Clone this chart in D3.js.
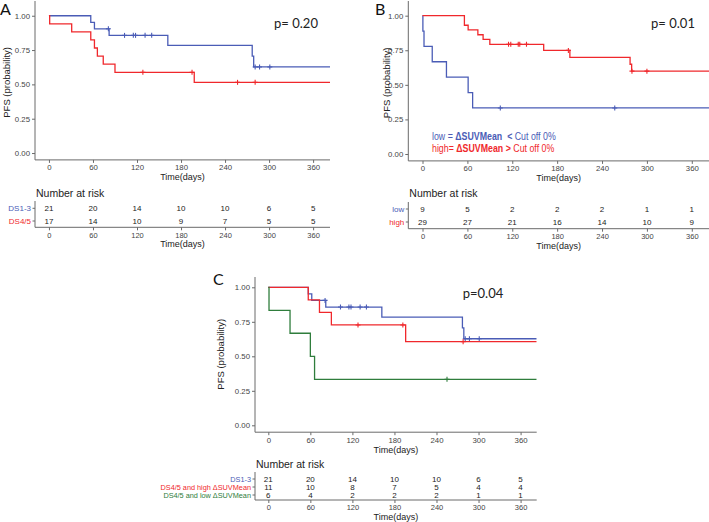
<!DOCTYPE html>
<html><head><meta charset="utf-8">
<script src="https://cdn.jsdelivr.net/npm/d3@7"></script>
<style>
html,body{margin:0;padding:0;background:#fff;}
svg text{font-family:"Liberation Sans",Arial,sans-serif;}
</style></head>
<body>
<svg id="chart" width="709" height="522"></svg>
<script>
// ---------- DATA ----------
const xTicks = [0, 60, 120, 180, 240, 300, 360];
const yTicks = [0, 0.25, 0.5, 0.75, 1];
const yTickLabels = ["0.00", "0.25", "0.50", "0.75", "1.00"];

// Panel A
const aBlueTime = [0, 57, 62, 82, 162, 277, 279];
const aBlueSurv = [1, 0.952, 0.905, 0.857, 0.784, 0.706, 0.627];
const aBlueCens = [81, 103, 115, 118, 131, 140, 281, 287, 301];
const aRedTime = [0, 1, 31, 57, 62, 66, 74, 90, 198];
const aRedSurv = [1, 0.941, 0.882, 0.824, 0.765, 0.706, 0.647, 0.588, 0.515];
const aRedCens = [128, 195, 257, 281];
const aRiskLabels = ["DS1-3", "DS4/5"];
const aRiskBlue = [21, 20, 14, 10, 10, 6, 5];
const aRiskRed = [17, 14, 10, 9, 7, 5, 5];
const aP = "p= 0.20";

// Panel B
const bLowTime = [0, 0.5, 2, 13, 32, 61, 67];
const bLowSurv = [1, 0.889, 0.778, 0.667, 0.556, 0.444, 0.333];
const bLowCens = [104, 257];
const bHighTime = [0, 56, 61, 74, 81, 90, 162, 197, 277.5, 279.6];
const bHighSurv = [1, 0.931, 0.897, 0.862, 0.828, 0.793, 0.749, 0.699, 0.649, 0.599];
const bHighCens = [115, 118, 128, 130, 139, 195, 280, 300];
const bRiskLabels = ["low", "high"];
const bRiskLow = [9, 5, 2, 2, 2, 1, 1];
const bRiskHigh = [29, 27, 21, 16, 14, 10, 9];
const bP = "p= 0.01";

// Panel C
const cRedTime = [0, 57, 73, 90, 196];
const cRedSurv = [1, 0.909, 0.818, 0.727, 0.606];
const cRedCens = [128, 192, 278];
const cGreenTime = [0, 1, 31, 60, 66];
const cGreenSurv = [1, 0.833, 0.667, 0.5, 0.333];
const cGreenCens = [255];
const cRiskLabels = ["DS1-3", "DS4/5 and high \u0394SUVMean", "DS4/5 and low \u0394SUVMean"];
const cRiskBlue = [21, 20, 14, 10, 10, 6, 5];
const cRiskRed = [11, 10, 8, 7, 5, 4, 4];
const cRiskGreen = [6, 4, 2, 2, 2, 1, 1];
const cP = "p=0.04";

// ---------- STYLE ----------
const BLUE = "#4a5cb6", RED = "#f0282c", GREEN = "#2f7d3c";
const AX = "#6a6a6a", TICKTXT = "#444", TXT = "#222";

const svg = d3.select("#chart");

function survAt(times, surv, t) {
  let s = surv[0];
  for (let i = 0; i < times.length; i++) if (times[i] <= t) s = surv[i];
  return s;
}

function drawPanel(p) {
  const g = svg.append("g");
  const x = d3.scaleLinear().domain([-19, 383]).range([p.left, p.right]);
  const y = d3.scaleLinear().domain([-0.05, 1.05]).range([p.bottom, p.bottom - 1.1 * p.unit]);
  const clipId = "clip" + p.id;
  svg.append("clipPath").attr("id", clipId).append("rect")
    .attr("x", p.left).attr("y", p.axisTop).attr("width", p.right - p.left).attr("height", p.bottom - p.axisTop);

  // axes
  const yAxis = d3.axisLeft(y).tickValues(yTicks).tickFormat((d, i) => yTickLabels[i]).tickSize(3).tickPadding(2);
  const ya = g.append("g").attr("transform", `translate(${p.left},0)`).call(yAxis);
  const xAxis = d3.axisBottom(x).tickValues(xTicks).tickSize(3).tickPadding(2);
  const xa = g.append("g").attr("transform", `translate(0,${p.bottom})`).call(xAxis);
  [ya, xa].forEach(a => {
    a.select(".domain").remove();
    a.selectAll(".tick line").attr("stroke", AX);
    a.selectAll(".tick text").attr("fill", TICKTXT).style("font-size", "7.8px");
  });
  g.append("line").attr("x1", p.left).attr("x2", p.left).attr("y1", p.axisTop).attr("y2", p.bottom).attr("stroke", AX);
  g.append("line").attr("x1", p.left).attr("x2", p.right).attr("y1", p.bottom).attr("y2", p.bottom).attr("stroke", AX);

  g.append("text").attr("x", (p.left + p.right) / 2).attr("y", p.bottom + 17.5).attr("text-anchor", "middle")
    .attr("dominant-baseline", "central").style("font-size", "9px").attr("fill", TXT).text("Time(days)");
  g.append("text").attr("transform", `translate(${p.ylabX},${y(0.5) - 2}) rotate(-90)`).attr("text-anchor", "middle")
    .attr("dominant-baseline", "central").style("font-size", "9.5px").attr("fill", TXT).text("PFS (probability)");

  // curves
  const line = d3.line().x(d => x(d[0])).y(d => y(d[1])).curve(d3.curveStepAfter);
  const cg = g.append("g").attr("clip-path", `url(#${clipId})`);
  p.curves.forEach(c => {
    const pts = c.time.map((t, i) => [t, c.surv[i]]);
    pts.push([383, c.surv[c.surv.length - 1]]);
    cg.append("path").datum(pts).attr("d", line).attr("fill", "none").attr("stroke", c.color).attr("stroke-width", 1.3);
    c.cens.forEach(t => {
      const cx = x(t), cy = y(survAt(c.time, c.surv, t));
      cg.append("line").attr("x1", cx).attr("x2", cx).attr("y1", cy - 2.5).attr("y2", cy + 2.5).attr("stroke", c.color).attr("stroke-width", 1.1);
      cg.append("line").attr("x1", cx - 2.5).attr("x2", cx + 2.5).attr("y1", cy).attr("y2", cy).attr("stroke", c.color).attr("stroke-width", 1.1);
    });
  });

  // p value
  g.append("text").attr("x", p.pX).attr("y", p.pY).attr("text-anchor", "middle").attr("dominant-baseline", "central")
    .style("font-family", "Lato, 'Open Sans', sans-serif").style("font-size", "13px").attr("fill", TXT).text(p.pText);

  // panel letter
  g.append("text").attr("x", p.letterX).attr("y", p.letterY).attr("dominant-baseline", "central")
    .style("font-family", "Lato, 'Open Sans', sans-serif").style("font-size", "16px").attr("fill", "#111").text(p.letter);

  // risk table
  const r = p.risk;
  g.append("text").attr("x", p.left + 1).attr("y", r.titleY).attr("dominant-baseline", "central")
    .style("font-size", r.titleSize).attr("fill", TXT).text("Number at risk");
  r.rows.forEach((row, i) => {
    const ry = r.rowY[i];
    g.append("text").attr("x", p.left - 4).attr("y", ry).attr("text-anchor", "end").attr("dominant-baseline", "central")
      .style("font-size", r.labelSize).attr("fill", row.color).text(row.label);
    g.append("line").attr("x1", p.left - 2.5).attr("x2", p.left).attr("y1", ry).attr("y2", ry).attr("stroke", AX);
    row.values.forEach((v, j) => {
      g.append("text").attr("x", x(xTicks[j])).attr("y", ry).attr("text-anchor", "middle").attr("dominant-baseline", "central")
        .style("font-size", r.numSize).attr("fill", TXT).text(v);
    });
  });
  g.append("line").attr("x1", p.left).attr("x2", p.left).attr("y1", r.top).attr("y2", r.axisY).attr("stroke", AX);
  g.append("line").attr("x1", p.left).attr("x2", p.right).attr("y1", r.axisY).attr("y2", r.axisY).attr("stroke", AX);
  const rxa = g.append("g").attr("transform", `translate(0,${r.axisY})`).call(xAxis);
  rxa.select(".domain").remove();
  rxa.selectAll(".tick line").attr("stroke", AX);
  rxa.selectAll(".tick text").attr("fill", TICKTXT).style("font-size", "7.5px");
  g.append("text").attr("x", (p.left + p.right) / 2).attr("y", r.axisY + 17).attr("text-anchor", "middle")
    .attr("dominant-baseline", "central").style("font-size", "9px").attr("fill", TXT).text("Time(days)");
  return {x, y, g};
}

// Panel A
drawPanel({
  id: "A", left: 35, right: 330, bottom: 159.9, unit: 137.3, axisTop: 1, ylabX: 6,
  pText: aP, pX: 296, pY: 23, letter: "A", letterX: 0, letterY: 8,
  curves: [
    {time: aBlueTime, surv: aBlueSurv, cens: aBlueCens, color: BLUE},
    {time: aRedTime, surv: aRedSurv, cens: aRedCens, color: RED}
  ],
  risk: {titleY: 192.7, titleSize: "10.5px", labelSize: "8px", numSize: "8px", top: 201, axisY: 227.3,
    rowY: [208.3, 221], rows: [
      {label: aRiskLabels[0], color: BLUE, values: aRiskBlue},
      {label: aRiskLabels[1], color: RED, values: aRiskRed}
    ]}
});

// Panel B
const pb = drawPanel({
  id: "B", left: 408.3, right: 709, bottom: 160.9, unit: 138.3, axisTop: 1, ylabX: 386,
  pText: bP, pX: 673, pY: 23, letter: "B", letterX: 375, letterY: 8,
  curves: [
    {time: bLowTime, surv: bLowSurv, cens: bLowCens, color: BLUE},
    {time: bHighTime, surv: bHighSurv, cens: bHighCens, color: RED}
  ],
  risk: {titleY: 193, titleSize: "10.5px", labelSize: "8px", numSize: "8px", top: 202, axisY: 228.7,
    rowY: [209, 222], rows: [
      {label: bRiskLabels[0], color: BLUE, values: bRiskLow},
      {label: bRiskLabels[1], color: RED, values: bRiskHigh}
    ]}
});

// legend in B (horizontally condensed to mimic a narrow font)
const leg = pb.g.append("g").attr("transform", "translate(432,0) scale(0.84,1)")
  .style("font-family", "Lato, 'Open Sans', sans-serif").style("font-size", "10.5px");
const l1 = leg.append("text").attr("x", 0).attr("y", 136).attr("dominant-baseline", "central").attr("fill", BLUE);
l1.append("tspan").text("low = ");
l1.append("tspan").style("font-weight", "bold").text("\u0394SUVMean");
l1.append("tspan").style("font-weight", "bold").attr("xml:space", "preserve").text("\u00a0 <");
l1.append("tspan").text(" Cut off 0%");
const l2 = leg.append("text").attr("x", 0).attr("y", 147.7).attr("dominant-baseline", "central").attr("fill", RED);
l2.append("tspan").text("high= ");
l2.append("tspan").style("font-weight", "bold").text("\u0394SUVMean >");
l2.append("tspan").text(" Cut off 0%");

// Panel C
drawPanel({
  id: "C", left: 255, right: 536.7, bottom: 432.2, unit: 138, axisTop: 277, ylabX: 220,
  pText: cP, pX: 483, pY: 292.7, letter: "C", letterX: 213, letterY: 278,
  curves: [
    {time: aBlueTime, surv: aBlueSurv, cens: aBlueCens, color: BLUE},
    {time: cRedTime, surv: cRedSurv, cens: cRedCens, color: RED},
    {time: cGreenTime, surv: cGreenSurv, cens: cGreenCens, color: GREEN}
  ],
  risk: {titleY: 464.3, titleSize: "10.5px", labelSize: "7.3px", numSize: "8px", top: 472, axisY: 500,
    rowY: [479, 487, 495], rows: [
      {label: cRiskLabels[0], color: BLUE, values: cRiskBlue},
      {label: cRiskLabels[1], color: RED, values: cRiskRed},
      {label: cRiskLabels[2], color: GREEN, values: cRiskGreen}
    ]}
});
</script>
</body></html>
